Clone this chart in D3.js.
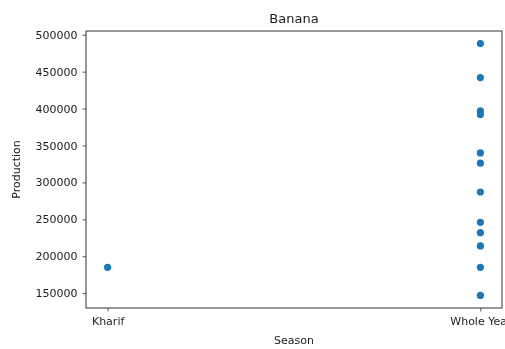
<!DOCTYPE html>
<html>
<head>
<meta charset="utf-8">
<script src="https://cdn.jsdelivr.net/npm/d3@7"></script>
<style>
  html, body { margin: 0; padding: 0; background: #fff; }
  svg { display: block; }
  text { font-family: "DejaVu Sans", sans-serif; fill: #222; }
</style>
</head>
<body>
<svg id="chart" width="505" height="349"></svg>
<script>
// Banana production by season
const seasons = ["Kharif", "Whole Year"];
const pointSeason = [
  "Kharif",
  "Whole Year", "Whole Year", "Whole Year", "Whole Year", "Whole Year", "Whole Year",
  "Whole Year", "Whole Year", "Whole Year", "Whole Year", "Whole Year", "Whole Year"
];
const production = [
  185000,
  488000, 442000, 397000, 392000, 340000, 326000,
  287000, 246000, 232000, 214000, 185000, 147000
];
const yTicks = [150000, 200000, 250000, 300000, 350000, 400000, 450000, 500000];

const W = 505, H = 349;
const m = { left: 86, right: 3, top: 31, bottom: 41 };
const svg = d3.select("#chart");

// soft rendering of the whole figure
const defs = svg.append("defs");
defs.append("filter").attr("id", "soft")
  .append("feGaussianBlur").attr("stdDeviation", 0.55);
const g = svg.append("g").attr("filter", "url(#soft)");

const pad = 0.058;
const x = d3.scaleLinear()
  .domain([-pad, 1 + pad])
  .range([m.left, W - m.right]);
const idx = d3.scaleOrdinal().domain(seasons).range([0, 1]);

const yMin = d3.min(production), yMax = d3.max(production);
const yPad = (yMax - yMin) * 0.05;
const y = d3.scaleLinear()
  .domain([yMin - yPad, yMax + yPad])
  .range([H - m.bottom, m.top]);

// frame
g.append("rect")
  .attr("x", m.left).attr("y", m.top)
  .attr("width", W - m.right - m.left).attr("height", H - m.bottom - m.top)
  .attr("fill", "none").attr("stroke", "#333").attr("stroke-width", 1);

// y axis
const yAxis = g.append("g")
  .attr("transform", `translate(${m.left},0)`)
  .call(d3.axisLeft(y).tickValues(yTicks).tickFormat(d3.format("d")).tickSize(3.5).tickPadding(5));
yAxis.select(".domain").remove();
yAxis.selectAll("line").attr("stroke", "#555");
yAxis.selectAll("text").style("font-size", "11px").attr("fill", "#333");

// x axis
const xAxis = g.append("g")
  .attr("transform", `translate(0,${H - m.bottom})`)
  .call(d3.axisBottom(x).tickValues([0, 1]).tickFormat(i => seasons[i]).tickSize(3.5).tickPadding(6));
xAxis.select(".domain").remove();
xAxis.selectAll("line").attr("stroke", "#555");
xAxis.selectAll("text").style("font-size", "11px").attr("fill", "#333");

// points
g.append("g").selectAll("circle")
  .data(production)
  .join("circle")
  .attr("cx", (d, i) => x(idx(pointSeason[i])))
  .attr("cy", d => y(d))
  .attr("r", 3.6)
  .attr("fill", "#1f77b4");

// title and axis labels
g.append("text")
  .attr("x", (m.left + W - m.right) / 2).attr("y", 23)
  .attr("text-anchor", "middle").style("font-size", "13px")
  .text("Banana");

g.append("text")
  .attr("x", (m.left + W - m.right) / 2).attr("y", 344)
  .attr("text-anchor", "middle").style("font-size", "11px")
  .text("Season");

g.append("text")
  .attr("transform", `translate(20,${(m.top + H - m.bottom) / 2}) rotate(-90)`)
  .attr("text-anchor", "middle").style("font-size", "11px")
  .text("Production");
</script>
</body>
</html>
